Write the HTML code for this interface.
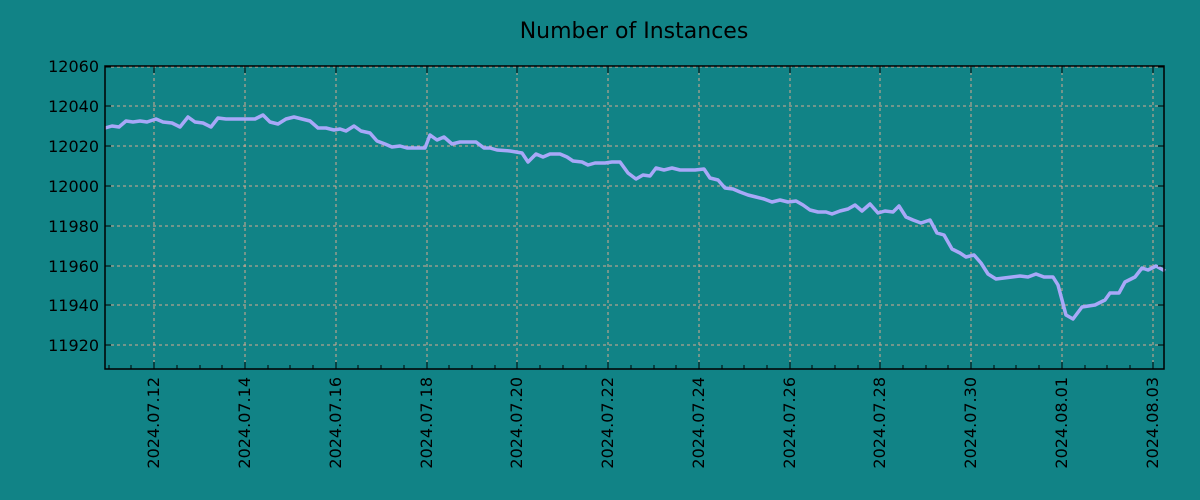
<!DOCTYPE html>
<html><head><meta charset="utf-8"><style>
html,body{margin:0;padding:0;background:#118386;}
svg{display:block;font-family:"DejaVu Sans","Liberation Sans",sans-serif;}
</style></head><body>
<svg width="1200" height="500" viewBox="0 0 1200 500" xmlns="http://www.w3.org/2000/svg">
<rect width="1200" height="500" fill="#118386"/>
<text x="634" y="38" font-size="22" text-anchor="middle" fill="#000">Number of Instances</text>
<g stroke="#d8a890" stroke-width="1" stroke-dasharray="3,3">
<line x1="105" x2="1164" y1="106" y2="106"/><line x1="105" x2="1164" y1="146" y2="146"/>
<line x1="105" x2="1164" y1="186" y2="186"/><line x1="105" x2="1164" y1="226" y2="226"/>
<line x1="105" x2="1164" y1="266" y2="266"/><line x1="105" x2="1164" y1="305" y2="305"/>
<line x1="105" x2="1164" y1="345" y2="345"/><line x1="105" x2="1164" y1="67" y2="67"/>
<line y1="66" y2="369" x1="154" x2="154"/><line y1="66" y2="369" x1="245" x2="245"/>
<line y1="66" y2="369" x1="336" x2="336"/><line y1="66" y2="369" x1="427" x2="427"/>
<line y1="66" y2="369" x1="517" x2="517"/><line y1="66" y2="369" x1="608" x2="608"/>
<line y1="66" y2="369" x1="699" x2="699"/><line y1="66" y2="369" x1="790" x2="790"/>
<line y1="66" y2="369" x1="880" x2="880"/><line y1="66" y2="369" x1="971" x2="971"/>
<line y1="66" y2="369" x1="1062" x2="1062"/><line y1="66" y2="369" x1="1153" x2="1153"/>
</g>
<polyline fill="none" stroke="#a8a8f8" stroke-width="3.5" stroke-linejoin="round" points="105,128 112,126 119,127 126,121 133,122 140,121 147,122 156,119 163,122 172,123 180,127 188,117 195,122 203,123 211,127 218,118 226,119 255,119 263,115 270,122 278,124 286,119 294,117 302,119 310,121 318,128 326,128 334,130 340,129 346,131 354,126 361,131 370,133 377,141 385,144 392,147 400,146 407,148 425,148 430,135 437,140 444,137 452,144 460,142 476,142 484,148 490,148 497,150 510,151 522,153 528,162 536,154 543,157 550,154 560,154 567,157 573,161 582,162 588,165 595,163 605,163 612,162 620,162 628,173 636,179 643,175 650,176 656,168 664,170 672,168 680,170 695,170 704,169 710,178 718,180 725,188 733,189 740,192 748,195 756,197 764,199 772,202 780,200 788,202 796,201 803,205 810,210 818,212 826,212 832,214 840,211 848,209 855,205 862,211 870,204 878,213 885,211 893,212 899,206 906,217 913,220 921,223 930,220 937,233 944,235 952,249 960,253 966,257 974,255 981,263 988,274 996,279 1004,278 1012,277 1020,276 1028,277 1036,274 1044,277 1053,277 1058,285 1062,300 1066,315 1073,319 1082,307 1095,305 1105,300 1110,293 1119,293 1125,282 1135,277 1142,268 1148,270 1156,266 1165,271"/>
<rect x="105" y="66" width="1059" height="303" fill="none" stroke="#000" stroke-width="1.5"/>
<g stroke="#000" stroke-width="1">
<path d="M105,67h6M105,106h6M105,146h6M105,186h6M105,226h6M105,266h6M105,305h6M105,345h6M1164,67h-6M1164,106h-6M1164,146h-6M1164,186h-6M1164,226h-6M1164,266h-6M1164,305h-6M1164,345h-6"/>
<path d="M154,369v-7M245,369v-7M336,369v-7M427,369v-7M517,369v-7M608,369v-7M699,369v-7M790,369v-7M880,369v-7M971,369v-7M1062,369v-7M1153,369v-7M154,66v7M245,66v7M336,66v7M427,66v7M517,66v7M608,66v7M699,66v7M790,66v7M880,66v7M971,66v7M1062,66v7M1153,66v7"/>
<path d="M109,369v-4M131,369v-4M177,369v-4M200,369v-4M222,369v-4M268,369v-4M290,369v-4M313,369v-4M358,369v-4M381,369v-4M404,369v-4M449,369v-4M472,369v-4M495,369v-4M540,369v-4M563,369v-4M586,369v-4M631,369v-4M654,369v-4M676,369v-4M722,369v-4M744,369v-4M767,369v-4M812,369v-4M835,369v-4M858,369v-4M903,369v-4M926,369v-4M948,369v-4M994,369v-4M1016,369v-4M1039,369v-4M1085,369v-4M1107,369v-4M1130,369v-4"/>
</g>
<g font-size="16" fill="#000" text-anchor="end">
<text x="99" y="72">12060</text><text x="99" y="112">12040</text><text x="99" y="152">12020</text>
<text x="99" y="192">12000</text><text x="99" y="232">11980</text><text x="99" y="272">11960</text>
<text x="99" y="311">11940</text><text x="99" y="351">11920</text>
</g>
<g font-size="16" fill="#000" text-anchor="end">
<text transform="translate(159,377) rotate(-90)">2024.07.12</text>
<text transform="translate(250,377) rotate(-90)">2024.07.14</text>
<text transform="translate(341,377) rotate(-90)">2024.07.16</text>
<text transform="translate(432,377) rotate(-90)">2024.07.18</text>
<text transform="translate(522,377) rotate(-90)">2024.07.20</text>
<text transform="translate(613,377) rotate(-90)">2024.07.22</text>
<text transform="translate(704,377) rotate(-90)">2024.07.24</text>
<text transform="translate(795,377) rotate(-90)">2024.07.26</text>
<text transform="translate(885,377) rotate(-90)">2024.07.28</text>
<text transform="translate(976,377) rotate(-90)">2024.07.30</text>
<text transform="translate(1067,377) rotate(-90)">2024.08.01</text>
<text transform="translate(1158,377) rotate(-90)">2024.08.03</text>
</g>
</svg>
</body></html>
